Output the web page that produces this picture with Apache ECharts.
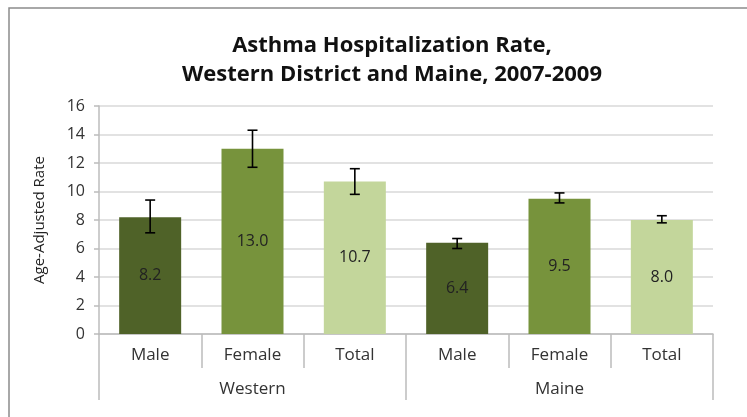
<!DOCTYPE html>
<html>
<head>
<meta charset="utf-8">
<script src="https://cdn.jsdelivr.net/npm/echarts@6/dist/echarts.min.js"></script>
<style>html,body{margin:0;padding:0;background:#fff}#c{width:747px;height:417px}</style>
</head>
<body>
<div id="c"></div>
<script>
const categories = ['Male', 'Female', 'Total', 'Male', 'Female', 'Total'];
const groups = ['Western', 'Maine'];
const rates = [8.2, 13.0, 10.7, 6.4, 9.5, 8.0];
const ciLow = [7.1, 11.7, 9.8, 6.0, 9.2, 7.8];
const ciHigh = [9.4, 14.3, 11.6, 6.7, 9.9, 8.3];
const yTicks = [0, 2, 4, 6, 8, 10, 12, 14, 16];
const colors = ['#4F6228', '#77933C', '#C3D69B', '#4F6228', '#77933C', '#C3D69B'];

const font = 'Open Sans';
const chart = echarts.init(document.getElementById('c'));
chart.setOption({
  animation: false,
  textStyle: { fontFamily: font },
  title: {
    text: 'Asthma Hospitalization Rate,\nWestern District and Maine, 2007-2009',
    left: 387, top: 26, textAlign: 'center',
    textStyle: { fontFamily: font, fontSize: 22, fontWeight: 'bold', color: '#111', lineHeight: 29 }
  },
  graphic: [{
    type: 'rect', shape: { x: 9, y: 8, width: 900, height: 600 },
    style: { fill: 'none', stroke: '#8c8c8c', lineWidth: 1.5 }, z: 100
  }],
  grid: { left: 99, right: 34, top: 106, bottom: 83, containLabel: false },
  xAxis: [{
    type: 'category', data: categories, position: 'bottom',
    axisLine: { show: true, lineStyle: { color: '#bcbcbc', width: 1.5 } },
    axisTick: { show: true, interval: 0, length: 34, lineStyle: { color: '#bcbcbc', width: 1.5 } },
    axisLabel: { interval: 0, margin: 13, fontSize: 17, color: '#333', fontFamily: font }
  }, {
    type: 'category', data: groups, position: 'bottom',
    axisLine: { show: false },
    axisTick: { show: true, interval: 0, length: 66, lineStyle: { color: '#bcbcbc', width: 1.5 } },
    axisLabel: { interval: 0, margin: 47, fontSize: 17, color: '#333', fontFamily: font }
  }],
  yAxis: {
    type: 'value', min: yTicks[0], max: yTicks[yTicks.length - 1], interval: 2,
    name: 'Age-Adjusted Rate', nameLocation: 'middle', nameGap: 52,
    nameTextStyle: { fontSize: 15, color: '#222', fontFamily: font },
    axisLine: { show: true, lineStyle: { color: '#bcbcbc', width: 1.5 } },
    axisTick: { show: true, length: 5, lineStyle: { color: '#bcbcbc', width: 1.5 } },
    axisLabel: { fontSize: 16, color: '#333', margin: 14, fontFamily: font },
    splitLine: { lineStyle: { color: '#d9d9d9', width: 1.5 } }
  },
  series: [{
    type: 'bar', xAxisIndex: 0, barWidth: 62,
    data: rates.map((v, i) => ({ value: v, itemStyle: { color: colors[i] } })),
    label: { show: true, position: 'inside', formatter: p => p.value.toFixed(1), fontSize: 16, color: '#222', fontFamily: font }
  }, {
    type: 'custom', xAxisIndex: 0, z: 10,
    data: ciLow.map((l, i) => [i, l, ciHigh[i]]),
    renderItem: function (params, api) {
      const lo = api.coord([api.value(0), api.value(1)]);
      const hi = api.coord([api.value(0), api.value(2)]);
      const w = 5;
      const st = { stroke: '#000', lineWidth: 1.6 };
      return { type: 'group', children: [
        { type: 'line', shape: { x1: hi[0], y1: hi[1], x2: lo[0], y2: lo[1] }, style: st },
        { type: 'line', shape: { x1: hi[0] - w, y1: hi[1], x2: hi[0] + w, y2: hi[1] }, style: st },
        { type: 'line', shape: { x1: lo[0] - w, y1: lo[1], x2: lo[0] + w, y2: lo[1] }, style: st }
      ]};
    }
  }]
});
</script>
</body>
</html>
